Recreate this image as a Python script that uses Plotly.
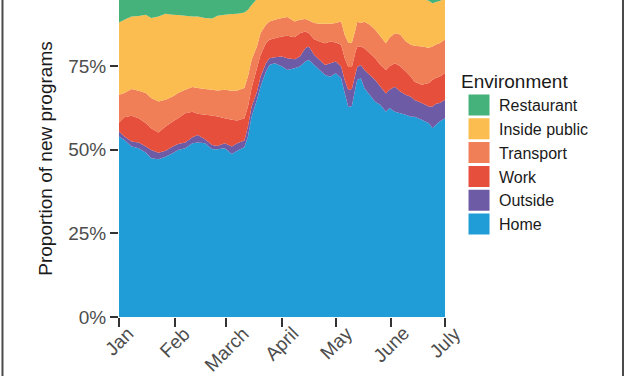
import plotly.graph_objects as go

# ---------------- data ----------------
dates = ["2020-01-01", "2020-01-04", "2020-01-08", "2020-01-12", "2020-01-16", "2020-01-19",
         "2020-01-23", "2020-01-27", "2020-01-31", "2020-02-03", "2020-02-07", "2020-02-11",
         "2020-02-14", "2020-02-18", "2020-02-22", "2020-02-25", "2020-02-29", "2020-03-04",
         "2020-03-07", "2020-03-11", "2020-03-13", "2020-03-15", "2020-03-18", "2020-03-20",
         "2020-03-23", "2020-03-25", "2020-03-28", "2020-04-01", "2020-04-04", "2020-04-08",
         "2020-04-11", "2020-04-14", "2020-04-16", "2020-04-19", "2020-04-22", "2020-04-25",
         "2020-04-28", "2020-05-01", "2020-05-04", "2020-05-06", "2020-05-08", "2020-05-10",
         "2020-05-12", "2020-05-13", "2020-05-15", "2020-05-17", "2020-05-20", "2020-05-23",
         "2020-05-26", "2020-05-29", "2020-05-31", "2020-06-03", "2020-06-06", "2020-06-09",
         "2020-06-12", "2020-06-14", "2020-06-18", "2020-06-22", "2020-06-24", "2020-06-26",
         "2020-06-28", "2020-07-01"]

home = [53.9, 52.9, 50.9, 50.4, 49.1, 47.4, 47.1, 47.9, 48.9, 49.9, 50.4, 51.9,
        52.1, 51.9, 50.1, 50.1, 50.4, 48.7, 49.7, 50.7, 53.9, 59.8, 64.8, 68.8,
        73.3, 75.3, 75.8, 74.8, 73.8, 74.3, 74.8, 76.3, 76.8, 75.3, 73.8, 72.3,
        71.8, 72.8, 71.3, 66.9, 62.7, 63.0, 68.4, 70.8, 71.3, 68.3, 66.3, 64.3,
        63.3, 61.3, 62.4, 61.3, 60.9, 60.4, 59.8, 59.8, 58.9, 57.9, 56.4, 57.4,
        58.4, 59.4]
outside = [1.5, 1.0, 1.5, 1.7, 1.8, 2.5, 2.0, 1.8, 2.0, 1.8, 1.7, 1.8,
           2.3, 1.2, 1.3, 1.0, 1.5, 2.2, 2.2, 2.0, 3.0, 3.0, 2.5, 3.0,
           2.5, 2.0, 1.8, 3.0, 3.5, 2.7, 3.0, 4.0, 4.0, 3.0, 3.0, 3.0,
           4.0, 3.5, 3.5, 3.9, 5.1, 5.1, 4.2, 3.9, 4.0, 5.5, 6.0, 6.5,
           5.5, 5.5, 5.5, 7.5, 6.5, 6.0, 6.0, 5.0, 5.0, 5.0, 6.5, 6.3,
           5.5, 5.5]
work = [2.7, 5.8, 7.7, 7.3, 7.0, 6.5, 6.0, 7.2, 7.5, 7.7, 8.8, 7.6,
        6.3, 7.3, 8.8, 8.8, 7.5, 8.0, 6.8, 6.7, 6.0, 5.5, 7.0, 6.5,
        6.0, 5.5, 5.7, 6.0, 6.7, 6.6, 7.0, 5.0, 4.0, 4.7, 5.5, 6.5,
        6.5, 5.7, 6.5, 6.6, 6.9, 6.6, 6.6, 6.0, 5.5, 6.5, 6.5, 6.5,
        6.5, 7.0, 7.0, 7.0, 7.5, 7.0, 6.0, 5.5, 5.5, 7.0, 8.0, 7.8,
        7.9, 8.0]
transport = [8.3, 7.2, 8.0, 8.2, 9.0, 9.0, 9.3, 8.0, 7.5, 7.5, 7.0, 7.4,
             7.7, 7.7, 7.7, 7.8, 8.5, 8.7, 9.0, 9.0, 9.0, 8.5, 6.5, 6.5,
             5.5, 5.5, 5.5, 5.5, 5.6, 4.7, 4.0, 3.7, 3.8, 4.8, 5.3, 5.8,
             5.3, 5.8, 7.0, 6.9, 7.2, 7.2, 6.6, 7.5, 7.0, 7.9, 8.5, 8.5,
             8.5, 8.0, 8.5, 9.0, 9.5, 9.0, 9.5, 10.7, 11.4, 10.5, 9.9, 9.9,
             10.0, 10.0]
inside_public = [21.6, 21.9, 21.7, 22.3, 23.4, 23.9, 25.4, 25.7, 24.4, 23.3, 22.1, 21.1,
                 21.4, 21.2, 21.3, 22.3, 22.4, 22.9, 22.9, 22.6, 19.9, 16.4, 14.2, 10.7,
                 8.8, 7.8, 7.3, 6.8, 6.5, 7.8, 7.3, 7.1, 7.5, 8.2, 8.0, 8.0,
                 8.0, 7.7, 7.3, 11.2, 13.6, 13.6, 9.8, 7.4, 7.7, 7.3, 8.3, 9.8,
                 11.8, 13.7, 12.2, 10.7, 11.2, 13.2, 14.2, 14.5, 14.2, 14.1, 12.9, 12.7,
                 12.6, 12.2]
restaurant = [12.1, 11.3, 10.3, 10.1, 9.8, 10.8, 10.3, 9.5, 9.8, 9.9, 10.1, 10.3,
              10.3, 10.8, 10.9, 10.1, 9.8, 9.6, 9.5, 9.1, 8.3, 6.8, 5.0, 4.5,
              4.0, 4.0, 4.0, 4.0, 4.0, 4.0, 4.0, 4.0, 4.0, 4.0, 4.5, 4.5,
              4.5, 4.5, 4.5, 4.5, 4.5, 4.5, 4.5, 4.5, 4.5, 4.5, 4.5, 4.5,
              4.5, 4.5, 4.5, 4.5, 4.5, 4.5, 4.5, 4.5, 5.0, 5.6, 6.3, 6.0,
              5.6, 5.0]

categories = ["Home", "Outside", "Work", "Transport", "Inside public", "Restaurant"]
month_ticks = ["2020-01-01", "2020-02-01", "2020-03-01", "2020-04-01",
               "2020-05-01", "2020-06-01", "2020-07-01"]
month_labels = ["Jan", "Feb", "March", "April", "May", "June", "July"]
y_ticks = [0, 25, 50, 75]
y_tick_labels = ["0%", "25%", "50%", "75%"]

# ---------------- styling ----------------
series = {"Home": home, "Outside": outside, "Work": work, "Transport": transport,
          "Inside public": inside_public, "Restaurant": restaurant}
colors = {"Home": "#209dd7", "Outside": "#6e5ba6", "Work": "#e54f3c",
          "Transport": "#f07e56", "Inside public": "#fbbd4f", "Restaurant": "#44b27a"}

FONT = "Liberation Sans, Arial, Helvetica, sans-serif"
TICK_COLOR = "#4d4d4d"
TEXT_COLOR = "#1a1a1a"

fig = go.Figure()
for name in categories:
    fig.add_trace(go.Scatter(
        x=dates, y=series[name], name=name, stackgroup="one", mode="none",
        fillcolor=colors[name], showlegend=False,
        hovertemplate="%{x|%b %d}: %{y:.1f}%<extra>" + name + "</extra>"))

# legend entries (square swatches), listed top to bottom as in the reference
for name in reversed(categories):
    fig.add_trace(go.Scatter(
        x=[None], y=[None], name=name, mode="markers",
        marker=dict(symbol="square", size=16, color=colors[name],
                    line=dict(color=colors[name], width=5)),
        showlegend=True, hoverinfo="skip"))

# x tick labels, rotated and centred under each tick
annotations = []
for d, lab in zip(month_ticks, month_labels):
    annotations.append(dict(
        x=d, xref="x", y=-0.01, yref="paper", text=lab, showarrow=False,
        textangle=-45, xanchor="center", yanchor="top",
        font=dict(family=FONT, size=19, color=TICK_COLOR)))

# frame lines at the left and right edges of the image
shapes = [
    dict(type="line", xref="paper", yref="paper", x0=-0.3574, x1=-0.3574, y0=-0.3, y1=1.1,
         line=dict(color="#4a4a4a", width=2)),
    dict(type="line", xref="paper", yref="paper", x0=1.5460, x1=1.5460, y0=-0.3, y1=1.1,
         line=dict(color="#4a4a4a", width=2)),
]

fig.update_layout(
    width=627, height=376,
    margin=dict(l=119, r=182, t=0, b=59, autoexpand=False),
    paper_bgcolor="white", plot_bgcolor="white",
    font=dict(family=FONT, size=19, color=TICK_COLOR),
    xaxis=dict(type="date", range=["2020-01-01", "2020-07-01"],
               tickvals=month_ticks, showticklabels=False,
               ticks="outside", ticklen=9, tickwidth=1.5, tickcolor="#333333",
               showgrid=False, zeroline=False, showline=False, fixedrange=True),
    yaxis=dict(range=[0, 94.7], tickvals=y_ticks, ticktext=y_tick_labels,
               ticks="outside", ticklen=8, tickwidth=1.5, tickcolor="#333333",
               tickfont=dict(family=FONT, size=19, color=TICK_COLOR),
               showgrid=False, zeroline=False, showline=False,
               title=dict(text="Proportion of new programs", standoff=10,
                          font=dict(family=FONT, size=19, color=TEXT_COLOR))),
    legend=dict(x=1.043, y=0.80, xanchor="left", yanchor="top",
                traceorder="normal",
                bgcolor="rgba(0,0,0,0)",
                title=dict(text="Environment", font=dict(family=FONT, size=19, color=TEXT_COLOR)),
                font=dict(family=FONT, size=16, color=TEXT_COLOR),
                itemsizing="trace"),
    annotations=annotations,
    shapes=shapes,
)

fig.write_html("out.html", config={"displayModeBar": False},
               post_script="document.body.style.margin='0px';")
